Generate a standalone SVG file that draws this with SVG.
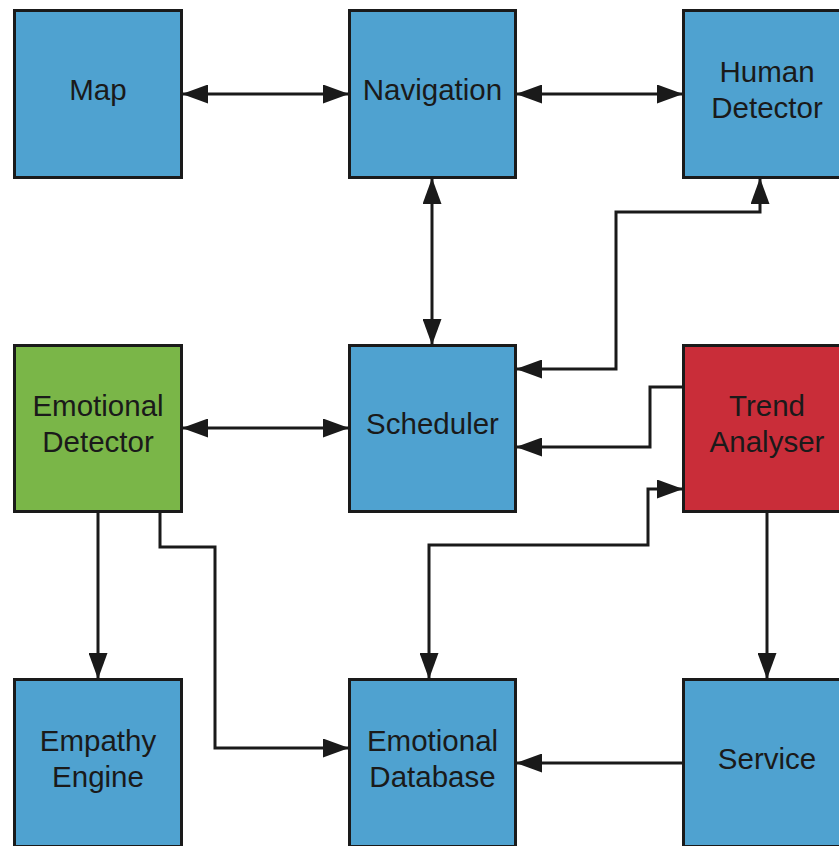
<svg xmlns="http://www.w3.org/2000/svg" width="839" height="846" viewBox="0 0 839 846">
<style>
.box{stroke:#1a1a1a;stroke-width:3}
.blue{fill:#4fa2d0}
.green{fill:#7ab648}
.red{fill:#c92d39}
.lbl{font-family:"Liberation Sans",Arial,sans-serif;font-size:29.5px;fill:#1a1a1a;text-anchor:middle}
.c{fill:none;stroke:#1a1a1a;stroke-width:3}
</style>
<defs>
<marker id="ah" viewBox="0 0 26 19" refX="26" refY="9.5" markerWidth="26" markerHeight="19" markerUnits="userSpaceOnUse" orient="auto-start-reverse">
<path d="M0,0 L26,9.5 L0,19 z" fill="#1a1a1a"/>
</marker>
</defs>
<rect width="839" height="846" fill="#ffffff"/>
<g id="connectors">
<path class="c" d="M182,94 H349" marker-start="url(#ah)" marker-end="url(#ah)"/>
<path class="c" d="M516,94 H683" marker-start="url(#ah)" marker-end="url(#ah)"/>
<path class="c" d="M432,178 V345" marker-start="url(#ah)" marker-end="url(#ah)"/>
<path class="c" d="M516,369 H616 V212 H760 V178" marker-start="url(#ah)" marker-end="url(#ah)"/>
<path class="c" d="M683,387 H650 V447 H516" marker-end="url(#ah)"/>
<path class="c" d="M182,428 H349" marker-start="url(#ah)" marker-end="url(#ah)"/>
<path class="c" d="M429,679 V545 H648 V489 H683" marker-start="url(#ah)" marker-end="url(#ah)"/>
<path class="c" d="M98,512 V679" marker-end="url(#ah)"/>
<path class="c" d="M160,512 V547 H215 V748 H349" marker-end="url(#ah)"/>
<path class="c" d="M767,512 V679" marker-end="url(#ah)"/>
<path class="c" d="M683,763 H516" marker-end="url(#ah)"/>
</g>
<g id="map"><rect class="box blue" x="14.5" y="10.5" width="167" height="167"/><text class="lbl" x="98" y="100">Map</text></g>
<g id="navigation"><rect class="box blue" x="349.5" y="10.5" width="166" height="167"/><text class="lbl" x="432.5" y="100">Navigation</text></g>
<g id="human-detector"><rect class="box blue" x="683.5" y="10.5" width="167" height="167"/><text class="lbl" x="767" y="82">Human</text><text class="lbl" x="767" y="118">Detector</text></g>
<g id="emotional-detector"><rect class="box green" x="14.5" y="345.5" width="167" height="166"/><text class="lbl" x="98" y="416">Emotional</text><text class="lbl" x="98" y="452">Detector</text></g>
<g id="scheduler"><rect class="box blue" x="349.5" y="345.5" width="166" height="166"/><text class="lbl" x="432.5" y="434">Scheduler</text></g>
<g id="trend-analyser"><rect class="box red" x="683.5" y="345.5" width="167" height="166"/><text class="lbl" x="767" y="416">Trend</text><text class="lbl" x="767" y="452">Analyser</text></g>
<g id="empathy-engine"><rect class="box blue" x="14.5" y="679.5" width="167" height="167"/><text class="lbl" x="98" y="751">Empathy</text><text class="lbl" x="98" y="787">Engine</text></g>
<g id="emotional-database"><rect class="box blue" x="349.5" y="679.5" width="166" height="167"/><text class="lbl" x="432.5" y="751">Emotional</text><text class="lbl" x="432.5" y="787">Database</text></g>
<g id="service"><rect class="box blue" x="683.5" y="679.5" width="167" height="167"/><text class="lbl" x="767" y="769">Service</text></g>
</svg>
